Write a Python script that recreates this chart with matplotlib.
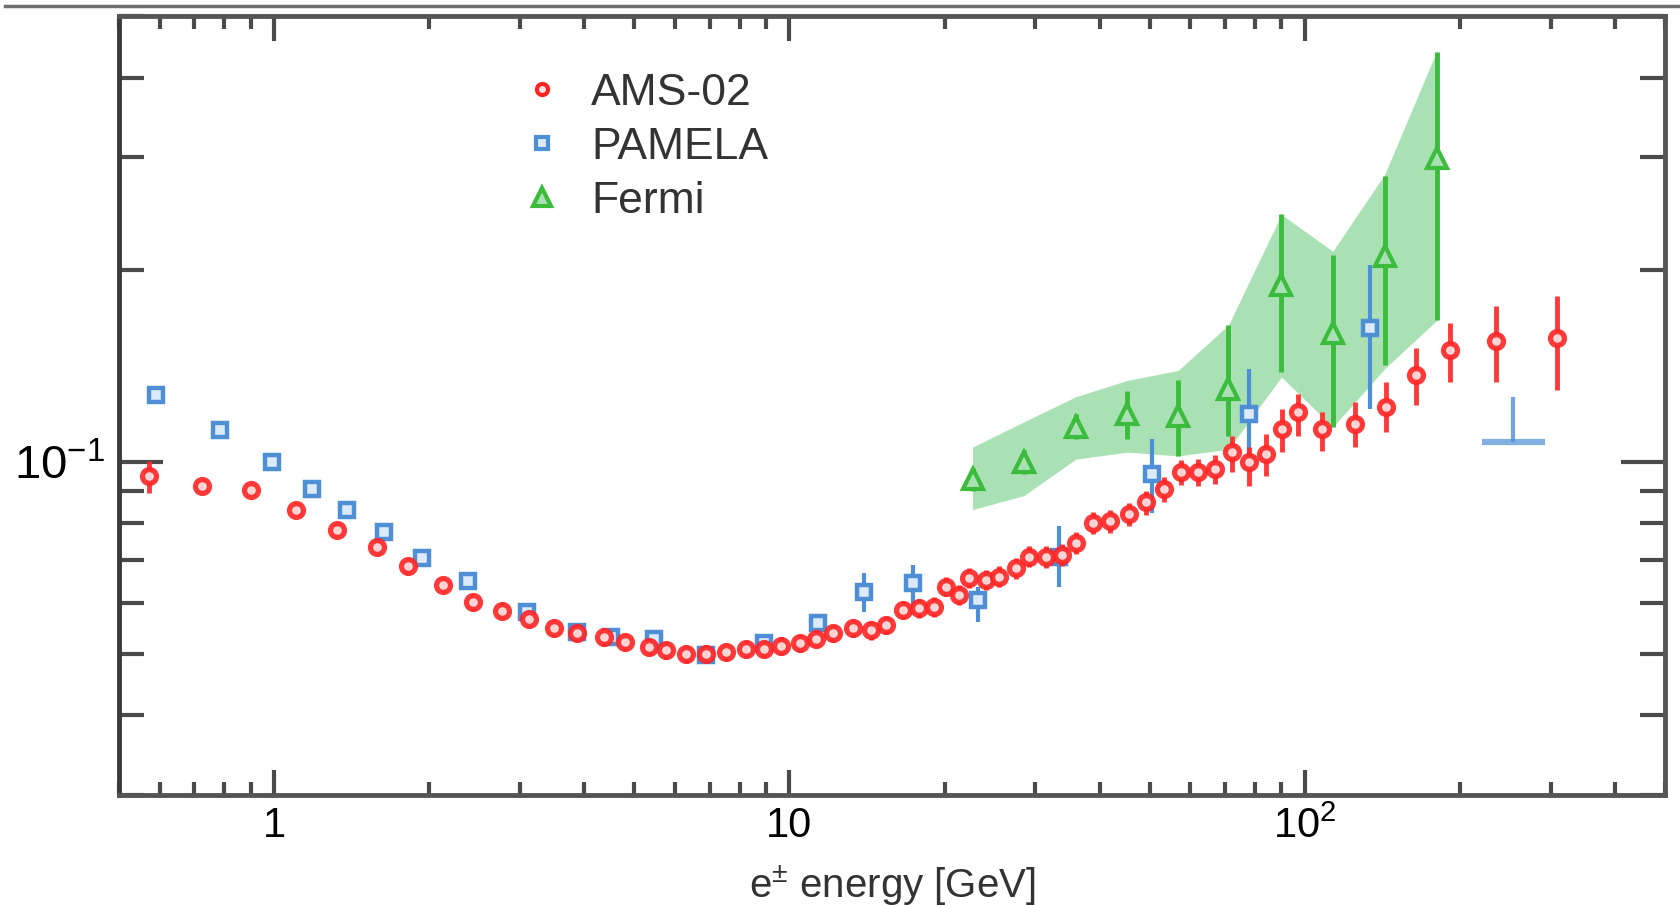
import matplotlib
matplotlib.use("Agg")
import matplotlib.pyplot as plt
from matplotlib.lines import Line2D
from matplotlib.ticker import LogLocator, NullFormatter

plt.rcParams['font.family'] = ['Liberation Sans', 'DejaVu Sans']
plt.rcParams['mathtext.fontset'] = 'custom'
plt.rcParams['mathtext.rm'] = 'Liberation Sans'
plt.rcParams['mathtext.it'] = 'Liberation Sans:italic'
plt.rcParams['mathtext.bf'] = 'Liberation Sans:bold'

# AMS-02 positron fraction
ams_E = [0.571, 0.726, 0.901, 1.103, 1.323, 1.581, 1.821, 2.129, 2.433, 2.770,
         3.125, 3.494, 3.878, 4.365, 4.79, 5.35, 5.77, 6.31, 6.90, 7.54,
         8.24, 8.94, 9.63, 10.46, 11.27, 12.13, 13.27, 14.40, 15.39, 16.58,
         17.86, 19.10, 20.12, 21.35, 22.33, 24.06, 25.53, 27.50, 29.18, 31.45,
         33.86, 35.94, 38.9, 41.9, 45.6, 49.2, 53.2, 57.5, 62.0, 66.9,
         72.3, 78.1, 84.0, 90.2, 96.9, 107.9, 125.0, 143.5, 164.1, 191.5,
         235.0, 309.0]
ams_f = [0.0950, 0.0916, 0.0902, 0.0841, 0.0782, 0.0734, 0.0685, 0.0641, 0.0603, 0.0584,
         0.0566, 0.0549, 0.0539, 0.0530, 0.0522, 0.0512, 0.0506, 0.0499, 0.0500, 0.0503,
         0.0509, 0.0509, 0.0514, 0.0519, 0.0528, 0.0538, 0.0548, 0.0544, 0.0554, 0.0585,
         0.0589, 0.0592, 0.0637, 0.0618, 0.0657, 0.0653, 0.0660, 0.0681, 0.0710, 0.0710,
         0.0715, 0.0746, 0.0802, 0.0806, 0.0827, 0.0863, 0.0905, 0.0962, 0.0962, 0.0973,
         0.1035, 0.0998, 0.1027, 0.1125, 0.1197, 0.1125, 0.1146, 0.1219, 0.1369, 0.1496,
         0.1544, 0.1561]
ams_err_lo = [0.0056, 0.0020, 0.0020, 0.0019, 0.0019, 0.0018, 0.0018, 0.0017, 0.0017, 0.0016,
              0.0016, 0.0016, 0.0016, 0.0016, 0.0015, 0.0015, 0.0015, 0.0015, 0.0015, 0.0015,
              0.0015, 0.0015, 0.0016, 0.0016, 0.0016, 0.0017, 0.0017, 0.0018, 0.0018, 0.0019,
              0.0020, 0.0021, 0.0022, 0.0022, 0.0023, 0.0024, 0.0025, 0.0026, 0.0027, 0.0028,
              0.0029, 0.0030, 0.0032, 0.0033, 0.0035, 0.0037, 0.0040, 0.0043, 0.0046, 0.0050,
              0.0073, 0.0083, 0.0078, 0.0090, 0.0100, 0.0086, 0.0092, 0.0106, 0.0141, 0.0161,
              0.0209, 0.0264]
ams_err_hi = [0.0053, 0.0020, 0.0020, 0.0019, 0.0019, 0.0018, 0.0018, 0.0017, 0.0017, 0.0016,
              0.0016, 0.0016, 0.0016, 0.0016, 0.0015, 0.0015, 0.0015, 0.0015, 0.0015, 0.0015,
              0.0015, 0.0015, 0.0016, 0.0016, 0.0016, 0.0017, 0.0017, 0.0018, 0.0018, 0.0019,
              0.0020, 0.0021, 0.0022, 0.0022, 0.0023, 0.0024, 0.0025, 0.0026, 0.0027, 0.0028,
              0.0029, 0.0030, 0.0032, 0.0033, 0.0035, 0.0037, 0.0040, 0.0043, 0.0046, 0.0050,
              0.0062, 0.0056, 0.0078, 0.0085, 0.0081, 0.0072, 0.0095, 0.0116, 0.0136, 0.0152,
              0.0208, 0.0256]

# PAMELA
pam_E = [0.589, 0.784, 0.990, 1.186, 1.387, 1.636, 1.938, 2.374, 3.089, 3.878,
         4.51, 5.47, 6.90, 8.94, 11.34, 13.98, 17.34, 23.17, 33.38, 50.5,
         78.1, 133.7]
pam_f = [0.1272, 0.1122, 0.0997, 0.0905, 0.0841, 0.0775, 0.0706, 0.0649, 0.0582, 0.0541,
         0.0531, 0.0528, 0.0497, 0.0519, 0.0558, 0.0625, 0.0645, 0.0607, 0.0710, 0.0956,
         0.1188, 0.1618]
pam_err_lo = [0.0012, 0.0012, 0.0010, 0.0010, 0.0010, 0.0010, 0.0010, 0.0010, 0.0010, 0.0010,
              0.0012, 0.0012, 0.0012, 0.0015, 0.0018, 0.0043, 0.0053, 0.0046, 0.0073, 0.0124,
              0.0215, 0.0408]
pam_err_hi = [0.0012, 0.0012, 0.0010, 0.0010, 0.0010, 0.0010, 0.0010, 0.0010, 0.0010, 0.0010,
              0.0012, 0.0012, 0.0012, 0.0015, 0.0018, 0.0044, 0.0044, 0.0030, 0.0082, 0.0129,
              0.0211, 0.0416]
# PAMELA lower-bound point at high energy
pam_lim_E = 253.8
pam_lim_f = 0.1073
pam_lim_top = 0.1264
pam_lim_bin = [221.0, 293.0]

# Fermi
fermi_E = [22.66, 28.52, 35.92, 45.23, 56.77, 71.1, 90.1, 113.3, 142.9, 180.6]
fermi_f = [0.0938, 0.0997, 0.1132, 0.1188, 0.1181, 0.1301, 0.1893, 0.1589, 0.2100, 0.2999]
fermi_err_lo = [0.0040, 0.0040, 0.0047, 0.0103, 0.0160, 0.0203, 0.0511, 0.0457, 0.0684, 0.1331]
fermi_err_hi = [0.0040, 0.0045, 0.0056, 0.0105, 0.0160, 0.0337, 0.0549, 0.0523, 0.0707, 0.1393]
band_lo = [0.0841, 0.0885, 0.1009, 0.1035, 0.1021, 0.1046, 0.1358, 0.1133, 0.1399, 0.1668]
band_hi = [0.1054, 0.1155, 0.1264, 0.1341, 0.1390, 0.1638, 0.2442, 0.2138, 0.2823, 0.4419]

red = '#ff2424'
blue = '#4f8fd6'
green = '#3cbc3c'
band_col = '#a9e1b5'

fig = plt.figure(figsize=(16.8, 9.05), dpi=100)
ax = fig.add_axes([0.0708, 0.1215, 0.9203, 0.8608])

ax.fill_between(fermi_E, band_lo, band_hi, color=band_col, lw=0, zorder=1)
ax.errorbar(fermi_E, fermi_f, yerr=[fermi_err_lo, fermi_err_hi], fmt='^', ms=14,
            mfc=band_col, mec=green, mew=3, ecolor=green, elinewidth=3.5,
            capsize=0, zorder=2)
ax.errorbar(pam_E, pam_f, yerr=[pam_err_lo, pam_err_hi], fmt='s', ms=10.5,
            mfc='#dceafa', mec=blue, mew=3.2, ecolor=blue, elinewidth=3,
            capsize=0, zorder=3)
ax.vlines(pam_lim_E, pam_lim_f, pam_lim_top, color=blue, lw=3, alpha=0.8, zorder=3)
ax.hlines(pam_lim_f, pam_lim_bin[0], pam_lim_bin[1], color=blue, lw=4.5, alpha=0.7, zorder=3)
ax.errorbar(ams_E, ams_f, yerr=[ams_err_lo, ams_err_hi], fmt='o', ms=10,
            mfc='#ffe4e4', mec=red, mew=3.8, ecolor=red, elinewidth=3.5,
            capsize=0, zorder=4, alpha=0.9)

ax.set_xscale('log')
ax.set_yscale('log')
ax.set_xlim(0.5, 500)
ax.set_ylim(0.03, 0.5)

ax.set_xticks([1, 10, 100], ['1', '10', '$10^2$'])
ax.set_yticks([0.1], ['$10^{-1}$'])
ax.xaxis.set_minor_locator(LogLocator(base=10, subs=[2, 3, 4, 5, 6, 7, 8, 9]))
ax.yaxis.set_minor_locator(LogLocator(base=10, subs=[2, 3, 4, 5, 6, 7, 8, 9]))
ax.xaxis.set_minor_formatter(NullFormatter())
ax.yaxis.set_minor_formatter(NullFormatter())

ax.tick_params(axis='both', which='both', direction='in', top=True, right=True,
               color='#4a4a4a', width=3)
ax.tick_params(axis='x', which='major', length=18, labelsize=30, pad=8)
ax.tick_params(axis='x', which='minor', length=9.5)
ax.tick_params(axis='y', which='major', length=32, labelsize=34, pad=10)
ax.tick_params(axis='y', which='minor', length=18)

for side in ['left', 'right', 'top', 'bottom']:
    ax.spines[side].set_linewidth(3.5)
    ax.spines[side].set_color('#555555')
ax.spines['left'].set_color('#3a3a3a')

ax.set_xlabel('e$^{\\pm}$ energy [GeV]', fontsize=29, color='#333333', labelpad=12)

handles = [
    Line2D([], [], ls='none', marker='o', ms=8, mfc='#ffe4e4', mec=red, mew=3),
    Line2D([], [], ls='none', marker='s', ms=9, mfc='#dceafa', mec=blue, mew=3),
    Line2D([], [], ls='none', marker='^', ms=13, mfc=band_col, mec=green, mew=3),
]
ax.legend(handles, ['AMS-02', 'PAMELA', 'Fermi'], loc='upper left',
          bbox_to_anchor=(0.2594, 0.927), frameon=False, fontsize=32,
          handlelength=1.0, handletextpad=0.6, labelspacing=0.29,
          borderpad=0, borderaxespad=0, labelcolor='#333333')

# thin frame line along the top of the picture
fig.add_artist(Line2D([0.003, 1.0], [0.9934, 0.9934], transform=fig.transFigure,
                      color='#707070', lw=2.5))

fig.savefig('out.png', dpi=100)
